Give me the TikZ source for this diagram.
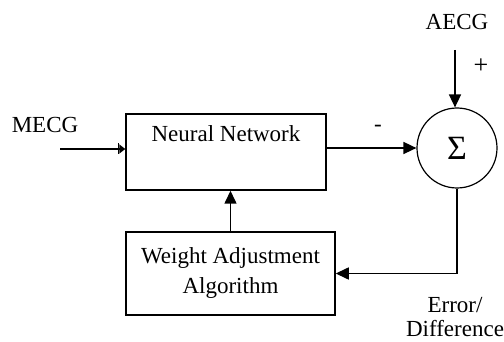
\documentclass[tikz,border=0pt]{standalone}
\usepackage{fontspec}
\setmainfont{Liberation Serif}
\usetikzlibrary{arrows.meta,positioning}

\begin{document}
\begin{tikzpicture}[
x=1pt, y=-1pt,
font=\fontsize{23}{30}\selectfont,
block/.style={draw, line width=1.5pt, inner sep=0pt},
flow/.style={line width=1.6pt, -{Triangle[length=13pt,width=12pt]}},
inflow/.style={line width=1.6pt, -{Bar[width=11pt,line width=1.5pt] Triangle[length=6pt,width=9pt]}}
]
    % frame
    \useasboundingbox (0,0) rectangle (504,342);

    % blocks
    \node[block, minimum width=200pt, minimum height=76pt] (nnet) at (226,152) {};
    \node[below=9pt of nnet.north] (nnettxt) {Neural Network};
    \node[block, minimum width=209pt, minimum height=83pt, align=center] (wadj) at (230.5,273.5)
        {Weight Adjustment\\Algorithm};
    \node[draw, circle, line width=1.2pt, minimum size=80pt, inner sep=0pt,
        font=\fontsize{34}{36}\selectfont] (sum) at (457,148) {Σ};

    % labels
    \node (mecg) at (45,125) {MECG};
    \node (aecg) at (457,22) {AECG};
    \node[font=\fontsize{26}{28}\selectfont] (plus) at (481,66) {+};
    \node (minus) at (378,128) {-};
    \node[align=center, font=\fontsize{23}{24}\selectfont] (err) at (455,317) {Error/\\Difference};

    \coordinate (in) at (60,149);
    \coordinate (top) at (455,50);

    % connections
    \draw[inflow] (in) -- (in -| nnet.west);
    \draw[flow] (nnet.east |- sum.west) -- (sum.west);
    \draw[flow] (top) -- (top |- sum.north);
    \draw[flow] (sum.south) |- (wadj.east);
    \draw[flow] (wadj.north) -- (wadj.north |- nnet.south);

\end{tikzpicture}
\end{document}
